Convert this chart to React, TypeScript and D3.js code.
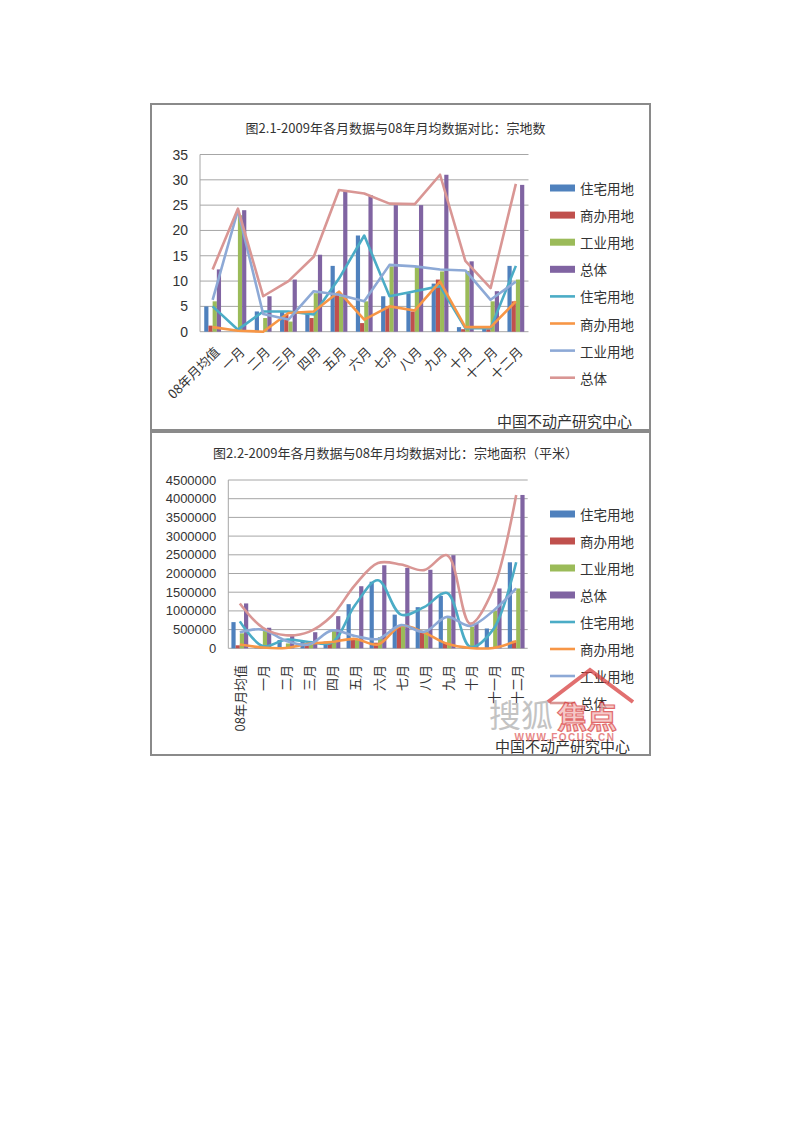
import React from 'react';
import * as d3 from 'd3';

// ---------- shared data ----------
const categories = ['08年月均值', '一月', '二月', '三月', '四月', '五月', '六月', '七月', '八月', '九月', '十月', '十一月', '十二月'];
const seriesNames = ['住宅用地', '商办用地', '工业用地', '总体'];

// ---------- chart 2.1 : 宗地数 ----------
const countResidentialBars = [5, 0, 4, 4, 3.7, 13, 19, 7, 7.6, 9.5, 0.9, 0.7, 13];
const countCommercialBars = [1.2, 0, 0, 3.4, 2.7, 7.6, 1.7, 5, 4, 10.3, 0.5, 0.5, 6];
const countIndustrialBars = [6, 23, 2.7, 2, 7.6, 7, 6, 12.9, 13, 11.9, 12, 6, 10.3];
const countTotalBars = [12.3, 24, 7, 10.3, 15.2, 28, 27, 25, 25, 31, 13.9, 8, 29];
const countResidentialLine = [5, 0.4, 4, 4, 3.4, 10.5, 19, 7, 8, 9, 0.7, 0.7, 13];
const countCommercialLine = [0.9, 0.2, 0, 3.7, 4, 7.9, 2.4, 5, 4.2, 9.9, 0.9, 0.9, 6];
const countIndustrialLine = [6.3, 24, 3.5, 2.4, 8, 7.3, 6, 13.2, 12.9, 12.3, 12.1, 6.3, 9.9];
const countTotalLine = [12.3, 24.3, 7, 10, 14.8, 28, 27.3, 25.3, 25.2, 31, 14, 8.6, 29.2];
const countTicks = [0, 5, 10, 15, 20, 25, 30, 35];

// ---------- chart 2.2 : 宗地面积（平米） ----------
const areaResidentialBars = [700000, 30000, 220000, 170000, 180000, 1180000, 1780000, 900000, 1100000, 1400000, 30000, 530000, 2300000];
const areaCommercialBars = [80000, 10000, 10000, 110000, 160000, 250000, 150000, 600000, 430000, 150000, 20000, 20000, 200000];
const areaIndustrialBars = [400000, 500000, 130000, 100000, 480000, 220000, 300000, 600000, 450000, 850000, 580000, 1000000, 1600000];
const areaTotalBars = [1200000, 550000, 380000, 430000, 860000, 1660000, 2220000, 2150000, 2100000, 2490000, 670000, 1600000, 4100000];
const areaResidentialLine = [720000, 60000, 230000, 170000, 150000, 1150000, 1820000, 900000, 1100000, 1480000, 40000, 500000, 2300000];
const areaCommercialLine = [100000, 20000, 10000, 120000, 170000, 250000, 100000, 600000, 420000, 120000, 10000, 10000, 190000];
const areaIndustrialLine = [430000, 500000, 200000, 100000, 480000, 330000, 250000, 620000, 440000, 840000, 600000, 1000000, 1600000];
const areaTotalLine = [1200000, 550000, 350000, 440000, 870000, 1690000, 2280000, 2240000, 2090000, 2490000, 660000, 1580000, 4100000];
const areaTicks = [0, 500000, 1000000, 1500000, 2000000, 2500000, 3000000, 3500000, 4000000, 4500000];

const barColors = ['#4F81BD', '#C0504D', '#9BBB59', '#8064A2'];
const lineColors = ['#4BACC6', '#F79646', '#8DA9D6', '#D99694'];

const CJK = "'Noto Sans CJK SC', 'Noto Sans', sans-serif";
const NUM = "'Liberation Sans', Arial, sans-serif";

type Spec = {
  box: [number, number, number, number];
  plot: { x0: number; x1: number; y0: number; y1: number };
  yMax: number;
  ticks: number[];
  tickFont: number;
  title: string;
  titleY: number;
  bars: number[][];
  lines: number[][];
  smooth: boolean;
  rotate: number;
  labelY: number;
  labelDx: number;
  legendY0: number;
  legendStep: number;
  sourceY: number;
  sourceX: number;
};

function Chart({ s }: { s: Spec }) {
  const x = d3.scaleBand<string>().domain(categories).range([s.plot.x0, s.plot.x1]).paddingInner(0).paddingOuter(0);
  const y = d3.scaleLinear().domain([0, s.yMax]).range([s.plot.y1, s.plot.y0]);
  const barW = 4.2;
  const inner = d3.scaleBand<string>().domain(seriesNames).range([-2 * barW, 2 * barW]);
  const cx = (i: number) => (x(categories[i]) as number) + x.bandwidth() / 2;
  const line = d3
    .line<number>()
    .x((_, i) => cx(i))
    .y((d) => y(d))
    .curve(s.smooth ? d3.curveCatmullRom.alpha(0.5) : d3.curveLinear);
  const [bx0, by0, bx1, by1] = s.box;
  return (
    <g>
      <rect x={bx0} y={by0} width={bx1 - bx0} height={by1 - by0} fill="#fff" stroke="#8a8a8a" strokeWidth={2} />
      <text x={(bx0 + bx1) / 2 - 5} y={s.titleY} textAnchor="middle" dominantBaseline="central" fontFamily={CJK} fontSize={13} fill="#333">
        {s.title}
      </text>
      {s.ticks.map((t) => (
        <g key={t}>
          <line x1={s.plot.x0} x2={s.plot.x1} y1={y(t)} y2={y(t)} stroke="#a6a6a6" strokeWidth={1} />
          <text x={s.plot.x0 - 12} y={y(t)} textAnchor="end" dominantBaseline="central" fontFamily={NUM} fontSize={s.tickFont} fill="#333">
            {t}
          </text>
        </g>
      ))}
      <line x1={s.plot.x0} x2={s.plot.x0} y1={s.plot.y0} y2={s.plot.y1} stroke="#a6a6a6" strokeWidth={1} />
      {s.bars.map((arr, si) =>
        arr.map((v, i) => (
          <rect
            key={`b${si}-${i}`}
            x={cx(i) + (inner(seriesNames[si]) as number)}
            y={y(v)}
            width={inner.bandwidth()}
            height={y(0) - y(v)}
            fill={barColors[si]}
          />
        ))
      )}
      {s.lines.map((arr, si) => (
        <path key={`l${si}`} d={line(arr) || ''} fill="none" stroke={lineColors[si]} strokeWidth={2.6} strokeLinejoin="round" />
      ))}
      {categories.map((c, i) => (
        <text
          key={c}
          transform={`translate(${cx(i) + s.labelDx},${s.labelY}) rotate(${s.rotate})`}
          textAnchor="end"
          dominantBaseline="central"
          fontFamily={CJK}
          fontSize={13}
          fill="#333"
        >
          {c}
        </text>
      ))}
      {seriesNames.map((n, i) => (
        <g key={`lb${i}`}>
          <rect x={550} y={s.legendY0 + i * s.legendStep - 3.5} width={25} height={7} fill={barColors[i]} />
          <text x={580} y={s.legendY0 + i * s.legendStep} dominantBaseline="central" fontFamily={CJK} fontSize={13.5} fill="#333">
            {n}
          </text>
        </g>
      ))}
      {seriesNames.map((n, i) => (
        <g key={`ll${i}`}>
          <line x1={550} x2={575} y1={s.legendY0 + (i + 4) * s.legendStep} y2={s.legendY0 + (i + 4) * s.legendStep} stroke={lineColors[i]} strokeWidth={2.6} />
          <text x={580} y={s.legendY0 + (i + 4) * s.legendStep} dominantBaseline="central" fontFamily={CJK} fontSize={13.5} fill="#333">
            {n}
          </text>
        </g>
      ))}
      <text x={s.sourceX} y={s.sourceY} textAnchor="end" dominantBaseline="central" fontFamily={CJK} fontSize={15} fill="#333">
        中国不动产研究中心
      </text>
    </g>
  );
}

const topSpec: Spec = {
  box: [151, 104, 650, 430],
  plot: { x0: 200, x1: 528.5, y0: 154.5, y1: 331.7 },
  yMax: 35,
  ticks: countTicks,
  tickFont: 14,
  title: '图2.1-2009年各月数据与08年月均数据对比：宗地数',
  titleY: 127,
  bars: [countResidentialBars, countCommercialBars, countIndustrialBars, countTotalBars],
  lines: [countResidentialLine, countCommercialLine, countIndustrialLine, countTotalLine],
  smooth: false,
  rotate: -45,
  labelY: 349,
  labelDx: 4,
  legendY0: 188,
  legendStep: 27.1,
  sourceY: 420,
  sourceX: 632,
};

const bottomSpec: Spec = {
  box: [151, 432, 650, 755],
  plot: { x0: 228.3, x1: 527.7, y0: 480, y1: 648.3 },
  yMax: 4500000,
  ticks: areaTicks,
  tickFont: 13,
  title: '图2.2-2009年各月数据与08年月均数据对比：宗地面积（平米）',
  titleY: 452,
  bars: [areaResidentialBars, areaCommercialBars, areaIndustrialBars, areaTotalBars],
  lines: [areaResidentialLine, areaCommercialLine, areaIndustrialLine, areaTotalLine],
  smooth: true,
  rotate: -90,
  labelY: 665,
  labelDx: 0,
  legendY0: 514,
  legendStep: 27,
  sourceY: 745,
  sourceX: 630,
};

export default function App() {
  return (
    <svg width={800} height={1132} style={{ position: 'absolute', left: 0, top: 0, background: '#fff' }}>
      <rect x={0} y={0} width={800} height={1132} fill="#fff" />
      <Chart s={topSpec} />
      <Chart s={bottomSpec} />
      {/* watermark */}
      <g opacity={0.75}>
        <text x={489} y={713} dominantBaseline="central" fontFamily={CJK} fontSize={32} fill="#b0b0b0">
          搜狐
        </text>
        <polyline points="548,702 590,670 633,702" fill="none" stroke="#d84040" strokeWidth={4} />
        <text x={557} y={715} dominantBaseline="central" fontFamily={CJK} fontSize={30} fontWeight="bold" fill="#f2b8b8" stroke="#d83a3a" strokeWidth={1.2}>
          焦点
        </text>
        <text x={565} y={737} textAnchor="middle" dominantBaseline="central" fontFamily={NUM} fontSize={10} fontWeight="bold" letterSpacing={1.5} fill="#e06060">
          WWW.FOCUS.CN
        </text>
      </g>
    </svg>
  );
}
